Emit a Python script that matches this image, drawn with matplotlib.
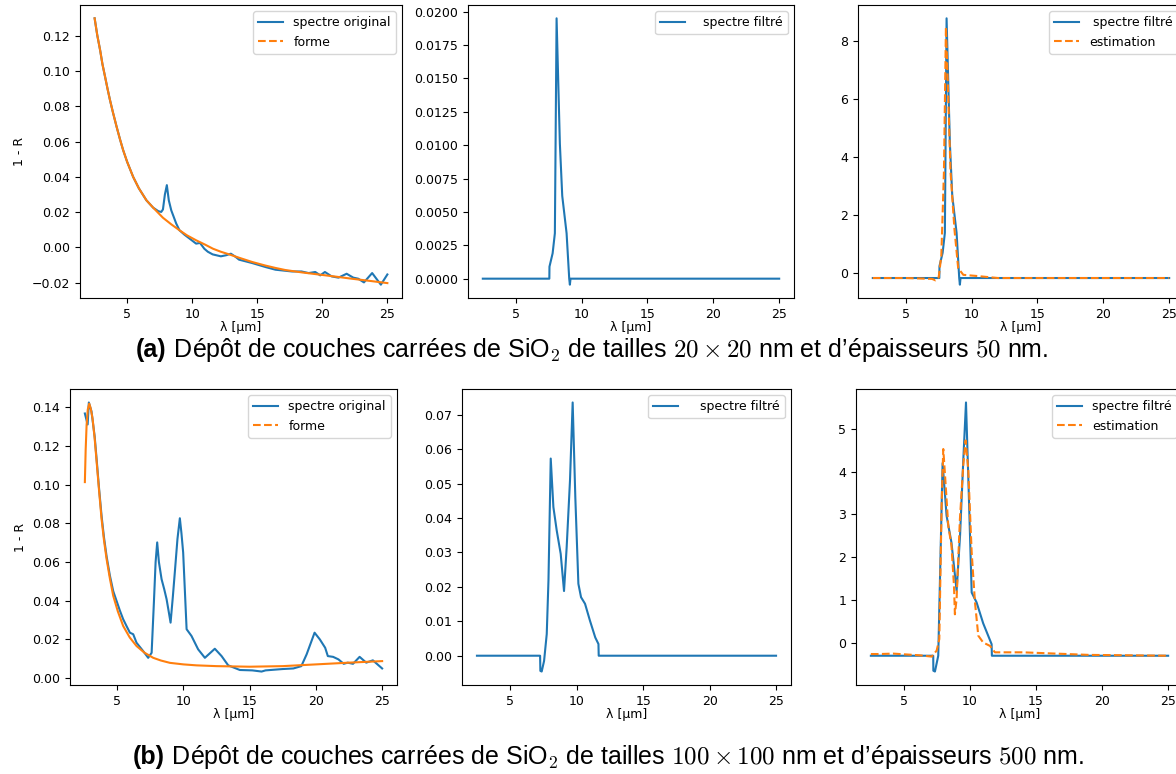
import matplotlib
matplotlib.use("Agg")
import matplotlib.pyplot as plt
from matplotlib.lines import Line2D

# ---------------- data ----------------
# (a) top row
lam_a_orig = [2.5, 2.7, 2.92, 3.1, 3.3, 3.5, 3.68, 3.9, 4.19, 4.45, 4.69, 5.0, 5.46, 5.9, 6.48,
              7.0, 7.4, 7.62, 7.75, 7.9, 8.05, 8.2, 8.39, 8.77, 9.02, 9.4,
              9.79, 10.3, 10.6, 10.93, 11.2, 11.57, 12.2, 12.6, 12.97, 13.35, 13.6, 14.6, 15.64, 16.4,
              17.67, 18.4, 18.95, 19.46, 19.84, 20.2, 20.72, 21.24, 21.87, 22.38, 22.76, 23.2,
              23.83, 24.5, 25.0]
val_a_orig = [0.130, 0.1205, 0.112, 0.104, 0.0969, 0.0897, 0.0836, 0.0768, 0.0684, 0.0613, 0.0552,
              0.0485, 0.040, 0.0335, 0.0267, 0.0225, 0.0205, 0.0201, 0.0215, 0.030, 0.0353,
              0.0267, 0.021, 0.0135, 0.0097, 0.0072, 0.005, 0.0021, 0.0025, -0.0008, -0.0025,
              -0.004, -0.0051, -0.0045, -0.0036, -0.0055, -0.007, -0.0089, -0.0112, -0.0127,
              -0.0137, -0.0137, -0.0146, -0.014, -0.0159, -0.014, -0.0165, -0.0172, -0.015,
              -0.0172, -0.0178, -0.0199, -0.0146, -0.0212, -0.0154]

lam_a_forme = [2.5, 2.7, 2.92, 3.1, 3.3, 3.5, 3.68, 3.9, 4.19, 4.45, 4.69, 5.0, 5.46, 5.9, 6.48,
               7.0, 7.75, 8.4, 9.02, 9.6, 10.3, 11.0, 11.6, 12.2, 12.84, 13.6, 14.6, 15.6, 16.4,
               17.17, 18.5, 19.7, 21.0, 22.25, 23.6, 25.0]
val_a_forme = [0.130, 0.1205, 0.112, 0.104, 0.0969, 0.0897, 0.0836, 0.0768, 0.0684, 0.0613, 0.0552,
               0.0485, 0.040, 0.0335, 0.0267, 0.0225, 0.0168, 0.0130, 0.0097, 0.0068, 0.004,
               0.0015, -0.0008, -0.0025, -0.004, -0.0059, -0.0083, -0.0103, -0.0117, -0.0129,
               -0.0143, -0.0154, -0.0166, -0.0178, -0.019, -0.0203]

lam_a_filt = [2.5, 7.55, 7.56, 7.8, 7.97, 8.1, 8.35, 8.53, 8.86, 9.06, 9.11, 9.16, 25.0]
val_a_filt = [0.0, 0.0, 0.0009, 0.0019, 0.0034, 0.0195, 0.0101, 0.0062, 0.0034, 0.0, -0.00045, 0.0, 0.0]

lam_a_norm = [2.5, 7.55, 7.56, 7.8, 7.97, 8.1, 8.35, 8.53, 8.86, 9.06, 9.11, 9.16, 25.0]
val_a_norm = [-0.17, -0.17, 0.24, 0.7, 1.39, 8.8, 4.48, 2.68, 1.39, -0.17, -0.40, -0.17, -0.17]

lam_a_est = [2.5, 5.0, 7.0, 7.25, 7.5, 7.7, 7.9, 8.05, 8.2, 8.4, 8.7, 8.98, 9.37, 10.4, 12.0, 25.0]
val_a_est = [-0.17, -0.17, -0.2, -0.25, -0.15, 0.6, 3.5, 8.5, 6.5, 3.5, 1.5, 0.17, -0.06, -0.1, -0.17, -0.17]

# (b) bottom row
lam_b_orig = [2.56, 2.77, 2.86, 3.06, 3.3, 3.45, 3.62, 3.82, 4.0, 4.2, 4.45, 4.7, 4.95, 5.2, 5.45,
              5.7, 5.96, 6.21, 6.46, 6.96, 7.34, 7.6, 7.77, 7.9, 8.02, 8.15, 8.35, 8.55, 8.73,
              8.9, 9.03, 9.2, 9.35, 9.55, 9.73, 9.85, 9.98, 10.24, 10.61, 11.11, 11.62,
              12.37, 12.88, 13.38, 14.26, 15.2, 15.9, 16.2, 17.5, 18.3, 18.9, 19.3, 19.9, 20.3,
              20.7, 20.9, 21.3, 21.7, 22.1, 22.4, 22.8, 23.3, 23.6, 23.8, 24.3, 24.6, 25.0]
val_b_orig = [0.1369, 0.1312, 0.1426, 0.138, 0.125, 0.113, 0.099, 0.084, 0.073, 0.063, 0.053,
              0.045, 0.040, 0.035, 0.0305, 0.027, 0.0235, 0.0227, 0.0183, 0.014, 0.0105, 0.0131,
              0.039, 0.060, 0.0702, 0.060, 0.0512, 0.046, 0.0408, 0.034, 0.0287, 0.042, 0.0547,
              0.072, 0.0827, 0.075, 0.065, 0.0253, 0.0218, 0.0149, 0.0105, 0.0152, 0.0114,
              0.0066, 0.0042, 0.004, 0.0034, 0.004, 0.0047, 0.005, 0.0062, 0.0123, 0.0235, 0.020,
              0.0157, 0.0114, 0.011, 0.0097, 0.0074, 0.008, 0.0074, 0.011, 0.0092, 0.008, 0.0092,
              0.0074, 0.005]

lam_b_forme = [2.56, 2.62, 2.69, 2.78, 2.89, 3.0, 3.14, 3.3, 3.45, 3.62, 3.82, 4.0, 4.2, 4.45,
               4.7, 5.05, 5.45, 5.95, 6.46, 7.05, 7.72, 8.3, 8.98, 10.0, 10.99, 12.5, 15.0, 17.5,
               20.0, 22.5, 25.0]
val_b_forme = [0.1014, 0.118, 0.1308, 0.139, 0.142, 0.1395, 0.1343, 0.124, 0.1118, 0.098, 0.0824,
               0.0715, 0.0616, 0.0515, 0.0426, 0.0345, 0.027, 0.021, 0.0166, 0.0132, 0.0105,
               0.0091, 0.0079, 0.0071, 0.0066, 0.0062, 0.0059, 0.0062, 0.0071, 0.008, 0.0088]

lam_b_filt = [2.5, 7.25, 7.27, 7.37, 7.55, 7.75, 7.88, 8.05, 8.25, 8.5, 8.8, 9.05, 9.25, 9.5, 9.7,
              9.9, 10.13, 10.33, 10.63, 11.0, 11.4, 11.64, 11.66, 25.0]
val_b_filt = [0.0, 0.0, -0.0044, -0.0046, -0.0015, 0.0063, 0.0219, 0.0573, 0.0432, 0.0364, 0.0296,
              0.0188, 0.0316, 0.051, 0.0736, 0.046, 0.0209, 0.017, 0.0151, 0.0102, 0.0053, 0.0034,
              0.0, 0.0]

lam_b_norm = [2.5, 7.22, 7.23, 7.35, 7.6, 7.72, 7.93, 8.23, 8.6, 8.99, 9.25, 9.5, 9.7, 9.9, 10.13,
              10.5, 11.0, 11.64, 11.66, 25.0]
val_b_norm = [-0.31, -0.31, -0.66, -0.68, -0.31, 1.33, 4.2, 2.97, 2.34, 1.21, 2.5, 4.3, 5.62, 3.6,
              1.17, 0.94, 0.45, -0.04, -0.31, -0.31]

lam_b_est = [2.5, 3.18, 4.19, 6.2, 7.1, 7.48, 7.68, 7.86, 7.98, 8.1, 8.36, 8.6, 8.79, 8.86, 8.99,
             9.24, 9.49, 9.67, 9.87, 10.13, 10.38, 10.63, 11.0, 11.52, 11.89, 13.03, 14.0, 16.5,
             19.0, 25.0]
val_b_est = [-0.27, -0.27, -0.26, -0.3, -0.33, -0.19, 0.08, 3.28, 4.53, 3.98, 2.73, 2.27, 1.33,
             0.66, 1.02, 2.89, 4.14, 4.73, 4.06, 2.11, 0.94, 0.16, 0.0, -0.08, -0.23, -0.23,
             -0.23, -0.26, -0.29, -0.31]

xlabel = "λ [µm]"
ylabel = "1 - R"
cap_a_label = "(a)"
cap_a_text = " Dépôt de couches carrées de SiO$_\\mathsf{2}$ de tailles $20 \\times 20$ nm et d’épaisseurs $50$ nm."
cap_b_label = "(b)"
cap_b_text = " Dépôt de couches carrées de SiO$_\\mathsf{2}$ de tailles $100 \\times 100$ nm et d’épaisseurs $500$ nm."

# ---------------- figure ----------------
W, H = 1176, 774
fig = plt.figure(figsize=(W / 100, H / 100), dpi=100)
plt.rcParams['font.size'] = 9


def add_ax(x0, x1, ytop, ybot):
    return fig.add_axes([x0 / W, (H - ybot) / H, (x1 - x0) / W, (ybot - ytop) / H])


FS = 9
ax1 = add_ax(80, 402, 5, 298)
ax2 = add_ax(468, 794, 5, 298)
ax3 = add_ax(858, 1184, 5, 298)
ax4 = add_ax(70, 397, 389, 685)
ax5 = add_ax(462, 791, 389, 685)
ax6 = add_ax(856, 1183, 389, 685)

dashed_h = lambda: Line2D([], [], color='C1', linestyle='--', lw=1.5)
solid_h = lambda: Line2D([], [], color='C0', lw=1.5)

# ax1
ax1.plot(lam_a_orig, val_a_orig, color='C0', lw=1.5)
ax1.plot(lam_a_forme, val_a_forme, color='C1', lw=1.5)
ax1.legend([solid_h(), dashed_h()], ["spectre original", "forme"], loc='upper right', fontsize=FS)
ax1.set_ylabel(ylabel, fontsize=FS)

# ax2
ax2.plot(lam_a_filt, val_a_filt, color='C0', lw=1.5, label="  spectre filtré")
ax2.legend(loc='upper right', fontsize=FS)

# ax3
ax3.plot(lam_a_norm, val_a_norm, color='C0', lw=1.5, label=" spectre filtré")
ax3.plot(lam_a_est, val_a_est, color='C1', lw=1.5, ls='--', label="estimation")
ax3.legend(loc='upper right', fontsize=FS)

# ax4
ax4.plot(lam_b_orig, val_b_orig, color='C0', lw=1.5)
ax4.plot(lam_b_forme, val_b_forme, color='C1', lw=1.5)
ax4.legend([solid_h(), dashed_h()], ["spectre original", "forme"], loc='upper right', fontsize=FS)
ax4.set_ylabel(ylabel, fontsize=FS)

# ax5
ax5.plot(lam_b_filt, val_b_filt, color='C0', lw=1.5, label="   spectre filtré")
ax5.legend(loc='upper right', fontsize=FS)

# ax6
ax6.plot(lam_b_norm, val_b_norm, color='C0', lw=1.5, label="spectre filtré")
ax6.plot(lam_b_est, val_b_est, color='C1', lw=1.5, ls='--', label="estimation")
ax6.legend(loc='upper right', fontsize=FS)

for ax in (ax1, ax2, ax3, ax4, ax5, ax6):
    ax.set_xlabel(xlabel, fontsize=FS, labelpad=0)
    ax.tick_params(labelsize=FS)
    ax.set_xticks([5, 10, 15, 20, 25])

ax1.set_yticks([-0.02, 0.0, 0.02, 0.04, 0.06, 0.08, 0.10, 0.12])
ax3.set_yticks([0, 2, 4, 6, 8])

# captions
CAP_FS = 18
renderer = fig.canvas.get_renderer()


def caption(x_px, y_px, lab, txt):
    t1 = fig.text(x_px / W, 1 - y_px / H, lab, fontsize=CAP_FS, fontweight='bold',
                  family='Liberation Sans', va='baseline', ha='left')
    bb = t1.get_window_extent(renderer)
    fig.text(bb.x1 / W, 1 - y_px / H, txt, fontsize=CAP_FS, family='Liberation Sans',
             va='baseline', ha='left', math_fontfamily='cm')


caption(136, 357, cap_a_label, cap_a_text)
caption(133, 764, cap_b_label, cap_b_text)

fig.savefig("out.png", dpi=100)
